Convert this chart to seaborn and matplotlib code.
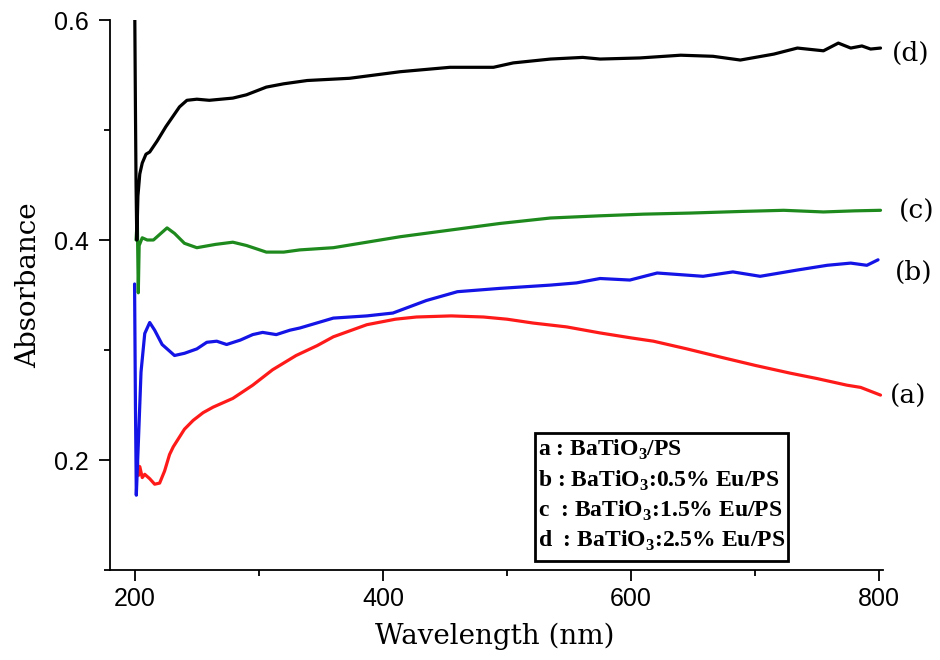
import numpy as np
import pandas as pd
import matplotlib
matplotlib.use("Agg")
import matplotlib.pyplot as plt
from matplotlib.patches import Rectangle
import seaborn as sns

# ---- data ----
wl_a = [202, 203, 204, 206, 208, 212, 216, 220, 224, 228, 231, 240, 247, 255, 263, 279, 295,
        311, 330, 347, 360, 387, 410, 427, 455, 481, 500, 521, 548, 575, 600, 618, 645, 674,
        700, 728, 750, 774, 785, 801]
abs_a = [0.200, 0.186, 0.194, 0.184, 0.187, 0.183, 0.178, 0.179, 0.190, 0.205, 0.212, 0.228,
         0.236, 0.243, 0.248, 0.256, 0.268, 0.282, 0.295, 0.304, 0.312, 0.323, 0.328, 0.330,
         0.331, 0.330, 0.328, 0.3245, 0.321, 0.3155, 0.311, 0.308, 0.301, 0.293, 0.286, 0.279,
         0.274, 0.268, 0.266, 0.259]

wl_b = [199.8, 200.5, 201.2, 203, 205, 208, 212, 216, 222, 232, 240, 250, 258, 266, 274, 285,
        295, 303, 314, 325, 333, 360, 387, 408, 435, 460, 494, 535, 556, 575, 599, 621, 658,
        682, 704, 734, 758, 777, 790, 799]
abs_b = [0.360, 0.250, 0.168, 0.220, 0.280, 0.315, 0.325, 0.318, 0.305, 0.295, 0.297, 0.301,
         0.307, 0.308, 0.305, 0.309, 0.314, 0.316, 0.314, 0.318, 0.320, 0.329, 0.331, 0.3336,
         0.345, 0.353, 0.356, 0.359, 0.361, 0.365, 0.3636, 0.370, 0.367, 0.371, 0.367, 0.3727,
         0.377, 0.379, 0.377, 0.382]

wl_c = [201, 202, 202.8, 203.5, 206, 210, 215, 220, 226, 232, 240, 250, 265, 279, 290, 306,
        320, 333, 360, 387, 414, 454, 494, 535, 575, 610, 648, 690, 723, 755, 780, 801]
abs_c = [0.400, 0.420, 0.352, 0.395, 0.402, 0.400, 0.400, 0.405, 0.411, 0.406, 0.397, 0.393,
         0.396, 0.398, 0.395, 0.389, 0.389, 0.391, 0.393, 0.398, 0.403, 0.409, 0.415, 0.420,
         0.422, 0.4235, 0.4245, 0.426, 0.427, 0.4255, 0.4265, 0.427]

wl_d = [200, 200.5, 201, 201.6, 202.5, 204, 206, 209, 212, 218, 225, 236, 242, 250, 260, 279,
        290, 306, 320, 339, 373, 414, 454, 489, 505, 535, 561, 575, 607, 640, 666, 688, 715,
        734, 755, 767, 777, 786, 793, 801]
abs_d = [0.600, 0.520, 0.450, 0.400, 0.440, 0.460, 0.470, 0.478, 0.480, 0.490, 0.503, 0.521,
         0.527, 0.528, 0.527, 0.529, 0.532, 0.539, 0.542, 0.545, 0.547, 0.553, 0.557, 0.557,
         0.561, 0.5645, 0.566, 0.5645, 0.5655, 0.568, 0.567, 0.5636, 0.569, 0.5745, 0.572,
         0.579, 0.5745, 0.5764, 0.5736, 0.5745]

series_names = ["a", "b", "c", "d"]
series_colors = ["#ff1a1a", "#1414e6", "#1e8a1e", "#000000"]
end_labels = ["(a)", "(b)", "(c)", "(d)"]
legend_lines = [r"a : BaTiO$_\mathbf{3}$/PS",
                r"b : BaTiO$_\mathbf{3}$:0.5% Eu/PS",
                r"c  : BaTiO$_\mathbf{3}$:1.5% Eu/PS",
                r"d  : BaTiO$_\mathbf{3}$:2.5% Eu/PS"]
x_ticks = [200, 400, 600, 800]
y_ticks = [0.2, 0.4, 0.6]

frames = []
for name, wl, ab in zip(series_names, [wl_a, wl_b, wl_c, wl_d], [abs_a, abs_b, abs_c, abs_d]):
    frames.append(pd.DataFrame({"Wavelength": wl, "Absorbance": ab, "sample": name}))
df = pd.concat(frames, ignore_index=True)

sns.set_theme(style="ticks")
plt.rcParams["font.family"] = ["Liberation Sans", "DejaVu Sans"]
plt.rcParams["text.color"] = "black"
plt.rcParams["axes.labelcolor"] = "black"
plt.rcParams["mathtext.fontset"] = "custom"
plt.rcParams["mathtext.rm"] = "Liberation Serif"
plt.rcParams["mathtext.bf"] = "Liberation Serif:bold"

W, H = 940, 660
fig = plt.figure(figsize=(9.4, 6.6), dpi=100)
ax = fig.add_axes([110 / W, 1 - 570 / H, (883 - 110) / W, (570 - 20) / H])

for name, col in zip(series_names, series_colors):
    sub = df[df["sample"] == name]
    sns.lineplot(data=sub, x="Wavelength", y="Absorbance", ax=ax, color=col,
                 linewidth=2.3, sort=False, estimator=None, legend=False)

ax.set_xlim(180, 803)
ax.set_ylim(0.1, 0.6)
ax.set_xticks(x_ticks)
ax.set_xticks([300, 500, 700], minor=True)
ax.set_yticks(y_ticks)
ax.set_yticks([0.1, 0.3, 0.5], minor=True)
ax.set_xticklabels([str(t) for t in x_ticks])
ax.set_yticklabels([f"{t:.1f}" for t in y_ticks])
ax.tick_params(axis="both", which="major", direction="out", length=8, width=1.3,
               labelsize=18, colors="black")
ax.tick_params(axis="x", which="major", pad=4.5)
ax.tick_params(axis="y", which="major", pad=7)
ax.tick_params(axis="both", which="minor", direction="out", length=4, width=1.3,
               colors="black")
for s in ["top", "right"]:
    ax.spines[s].set_visible(False)
for s in ["left", "bottom"]:
    ax.spines[s].set_linewidth(1.3)
    ax.spines[s].set_color("black")

ax.set_xlabel("Wavelength (nm)", family="DejaVu Serif", fontsize=20, color="black")
ax.set_ylabel("Absorbance", family="DejaVu Serif", fontsize=20, color="black")
ax.xaxis.set_label_coords((495 - 110) / 773, -(636 - 570) / 550)
ax.yaxis.set_label_coords((29 - 110) / 773, (570 - 285) / 550)
ax.xaxis.label.set_va("center")
ax.yaxis.label.set_va("center")

# end labels (a)-(d)
end_pos = [(908, 396), (914, 272), (917, 211), (911, 53)]
for lab, (px, py) in zip(end_labels, end_pos):
    fig.text(px / W, 1 - py / H, lab, family="DejaVu Serif", fontsize=19,
             ha="center", va="center", color="black")

# legend box
fig.add_artist(Rectangle((535 / W, 1 - 561 / H), (788 - 535) / W, (561 - 433) / H,
                         transform=fig.transFigure, fill=False, edgecolor="black",
                         linewidth=2.0))
row_y = [450, 481, 511, 541]
for txt, py in zip(legend_lines, row_y):
    fig.text(538 / W, 1 - py / H, txt, family="Liberation Serif", fontweight="bold",
             fontsize=17, ha="left", va="center", color="black")

fig.savefig("out.png", dpi=100)
